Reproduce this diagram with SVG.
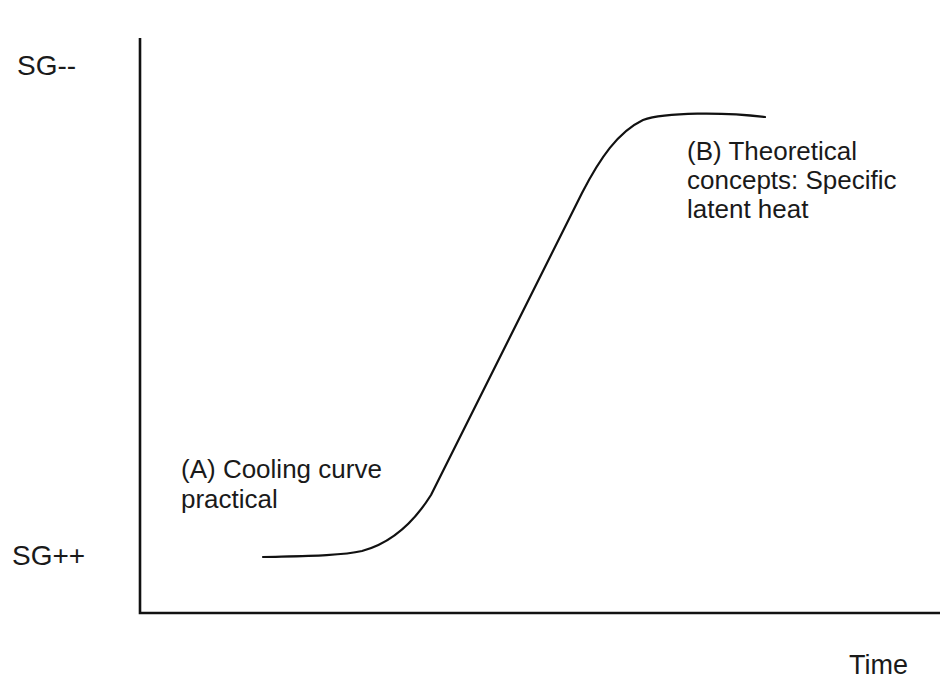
<svg xmlns="http://www.w3.org/2000/svg" width="940" height="681" viewBox="0 0 940 681">
  <style>
    .lbl { font-family: "Liberation Sans", Arial, Helvetica, sans-serif; fill: #1a1a1a; }
    .axis-lbl { font-size: 28px; }
    .note { font-size: 26px; }
    .axis { stroke: #111; stroke-width: 2.6; fill: none; }
    .curve { stroke: #111; stroke-width: 2.2; fill: none; stroke-linecap: round; stroke-linejoin: round; }
  </style>
  <rect width="940" height="681" fill="#ffffff"/>

  <!-- axes -->
  <g id="axes">
    <path class="axis" d="M140,38 V613 H940"/>
  </g>

  <!-- axis labels -->
  <g id="y-top-label">
    <text class="lbl axis-lbl" x="17" y="75">SG--</text>
  </g>
  <g id="y-bottom-label">
    <text class="lbl axis-lbl" x="12" y="565">SG++</text>
  </g>
  <g id="x-label">
    <text class="lbl axis-lbl" x="849" y="674" style="font-size:27px">Time</text>
  </g>

  <!-- cooling curve -->
  <g id="connectors">
    <path class="curve" d="M263,557 C300,556 340,556 362,551 C392,543 414,522 431,495 L582,193 C600,158 618,132 643,120 C665,112 725,112 765,117"/>
  </g>

  <!-- annotations -->
  <g id="note-a">
    <text class="lbl note" x="181" y="478">(A) Cooling curve</text>
    <text class="lbl note" x="181" y="508">practical</text>
  </g>
  <g id="note-b">
    <text class="lbl note" x="687" y="160">(B) Theoretical</text>
    <text class="lbl note" x="687" y="189">concepts: Specific</text>
    <text class="lbl note" x="687" y="218">latent heat</text>
  </g>
</svg>
